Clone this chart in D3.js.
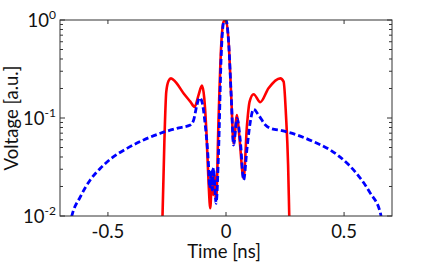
<!DOCTYPE html>
<html>
<head>
<meta charset="utf-8">
<script src="https://cdn.jsdelivr.net/npm/d3@7"></script>
<style>
  body { margin: 0; background: #fff; }
  svg { display: block; font-family: Lato, "Open Sans", sans-serif; }
  .lbl { font-size: 18.5px; fill: #111; }
</style>
</head>
<body>
<div id="chart"></div>
<script>
// time [ns] and voltage [a.u.]
const redTime = [-0.274, -0.269, -0.261, -0.253, -0.243, -0.233, -0.215, -0.180, -0.151, -0.133,
  -0.116, -0.102, -0.092, -0.083, -0.074, -0.0665, -0.059, -0.054, -0.050, -0.042,
  -0.031, -0.021, -0.010, 0, 0.011, 0.0225, 0.032, 0.0466, 0.056, 0.0746,
  0.089, 0.100, 0.117, 0.145, 0.180, 0.230, 0.244, 0.254, 0.263, 0.268, 0.271];
const redVolt = [0.005, 0.0098, 0.057, 0.185, 0.240, 0.254, 0.235, 0.179, 0.147, 0.130,
  0.172, 0.214, 0.159, 0.0725, 0.0224, 0.012, 0.0283, 0.0164, 0.0262, 0.0146,
  0.107, 0.514, 0.96, 1.0, 0.601, 0.159, 0.0552, 0.107, 0.067, 0.0243,
  0.0849, 0.147, 0.175, 0.145, 0.201, 0.254, 0.235, 0.107, 0.0331, 0.0098, 0.005];

const blueTime = [-0.662, -0.653, -0.617, -0.575, -0.532, -0.476, -0.419, -0.349, -0.278, -0.208,
  -0.151, -0.137, -0.123, -0.112, -0.102, -0.088, -0.074, -0.069, -0.062, -0.058,
  -0.053, -0.042, -0.031, -0.021, -0.010, 0, 0.011, 0.0225, 0.032, 0.0466,
  0.061, 0.0746, 0.089, 0.103, 0.117, 0.138, 0.167, 0.188, 0.237, 0.301,
  0.371, 0.442, 0.513, 0.569, 0.611, 0.654, 0.662];
const blueVolt = [0.008, 0.01, 0.0157, 0.0233, 0.0307, 0.0403, 0.049, 0.0597, 0.0698, 0.0785,
  0.0849, 0.0954, 0.136, 0.161, 0.147, 0.0849, 0.0331, 0.0193, 0.0295, 0.0184,
  0.0309, 0.0135, 0.0494, 0.391, 0.95, 1.0, 0.601, 0.159, 0.053, 0.099,
  0.0573, 0.0233, 0.049, 0.0917, 0.123, 0.107, 0.0849, 0.0785, 0.0742, 0.067,
  0.0573, 0.0471, 0.0345, 0.0243, 0.0171, 0.0107, 0.008];

const xTicks = [-0.5, 0, 0.5];
const xTickLabels = ['-0.5', '0', '0.5'];
const yTicks = [1, 0.1, 0.01];
const yTickExp = ['0', '-1', '-2'];

const margin = { top: 20, right: 41, bottom: 48, left: 60 },
  width = 433 - margin.left - margin.right,
  height = 264 - margin.top - margin.bottom;

const svg = d3.select('#chart')
  .append('svg')
  .attr('width', 433)
  .attr('height', 264);

const g = svg.append('g')
  .attr('transform', `translate(${margin.left},${margin.top})`);

const x = d3.scaleLinear().domain([-0.703, 0.703]).range([0, width]);
const y = d3.scaleLog().domain([0.01, 1]).range([height, 0]);

g.append('clipPath').attr('id', 'clip')
  .append('rect').attr('width', width).attr('height', height);

const line = d3.line()
  .x((d) => x(d[0]))
  .y((d) => y(d[1]))
  .curve(d3.curveMonotoneX);

const red = d3.zip(redTime, redVolt);
const blue = d3.zip(blueTime, blueVolt);

const plot = g.append('g').attr('clip-path', 'url(#clip)');

plot.append('path')
  .datum(red)
  .attr('fill', 'none')
  .attr('stroke', '#ff0000')
  .attr('stroke-width', 2.6)
  .attr('d', line);

plot.append('path')
  .datum(blue)
  .attr('fill', 'none')
  .attr('stroke', '#0000ff')
  .attr('stroke-width', 2.8)
  .attr('stroke-dasharray', '6,3')
  .attr('d', line);

// frame + ticks, MATLAB style (ticks inside, on all four sides)
const axisColor = '#333';
g.append('rect')
  .attr('width', width)
  .attr('height', height)
  .attr('fill', 'none')
  .attr('stroke', axisColor)
  .attr('stroke-width', 1);

const minorY = [];
[0.01, 0.1].forEach((b) => { for (let k = 2; k <= 9; k++) minorY.push(b * k); });

const addYTicks = (xPos, dir) => {
  g.selectAll(null).data(yTicks).enter().append('line')
    .attr('x1', xPos).attr('x2', xPos + dir * 5)
    .attr('y1', (d) => y(d)).attr('y2', (d) => y(d))
    .attr('stroke', axisColor);
  g.selectAll(null).data(minorY).enter().append('line')
    .attr('x1', xPos).attr('x2', xPos + dir * 3)
    .attr('y1', (d) => y(d)).attr('y2', (d) => y(d))
    .attr('stroke', axisColor);
};
addYTicks(0, 1);
addYTicks(width, -1);

const addXTicks = (yPos, dir) => {
  g.selectAll(null).data(xTicks).enter().append('line')
    .attr('x1', (d) => x(d)).attr('x2', (d) => x(d))
    .attr('y1', yPos).attr('y2', yPos + dir * 4)
    .attr('stroke', axisColor);
};
addXTicks(height, -1);
addXTicks(0, 1);

// tick labels
g.selectAll(null).data(xTicks).enter().append('text')
  .attr('class', 'lbl')
  .attr('x', (d) => x(d))
  .attr('y', height + 22)
  .attr('text-anchor', 'middle')
  .text((d, i) => xTickLabels[i]);

const yl = g.selectAll(null).data(yTicks).enter().append('text')
  .attr('class', 'lbl')
  .attr('x', -4)
  .attr('y', (d) => y(d) + 7)
  .attr('text-anchor', 'end');
yl.append('tspan').text('10');
yl.append('tspan')
  .attr('dy', -8)
  .style('font-size', '12px')
  .text((d, i) => yTickExp[i]);

// axis titles
g.append('text')
  .attr('class', 'lbl')
  .attr('x', width / 2 - 2)
  .attr('y', height + 42)
  .attr('text-anchor', 'middle')
  .text('Time [ns]');

g.append('text')
  .attr('class', 'lbl')
  .attr('transform', `translate(-42,${height / 2}) rotate(-90)`)
  .attr('text-anchor', 'middle')
  .text('Voltage [a.u.]');
</script>
</body>
</html>
